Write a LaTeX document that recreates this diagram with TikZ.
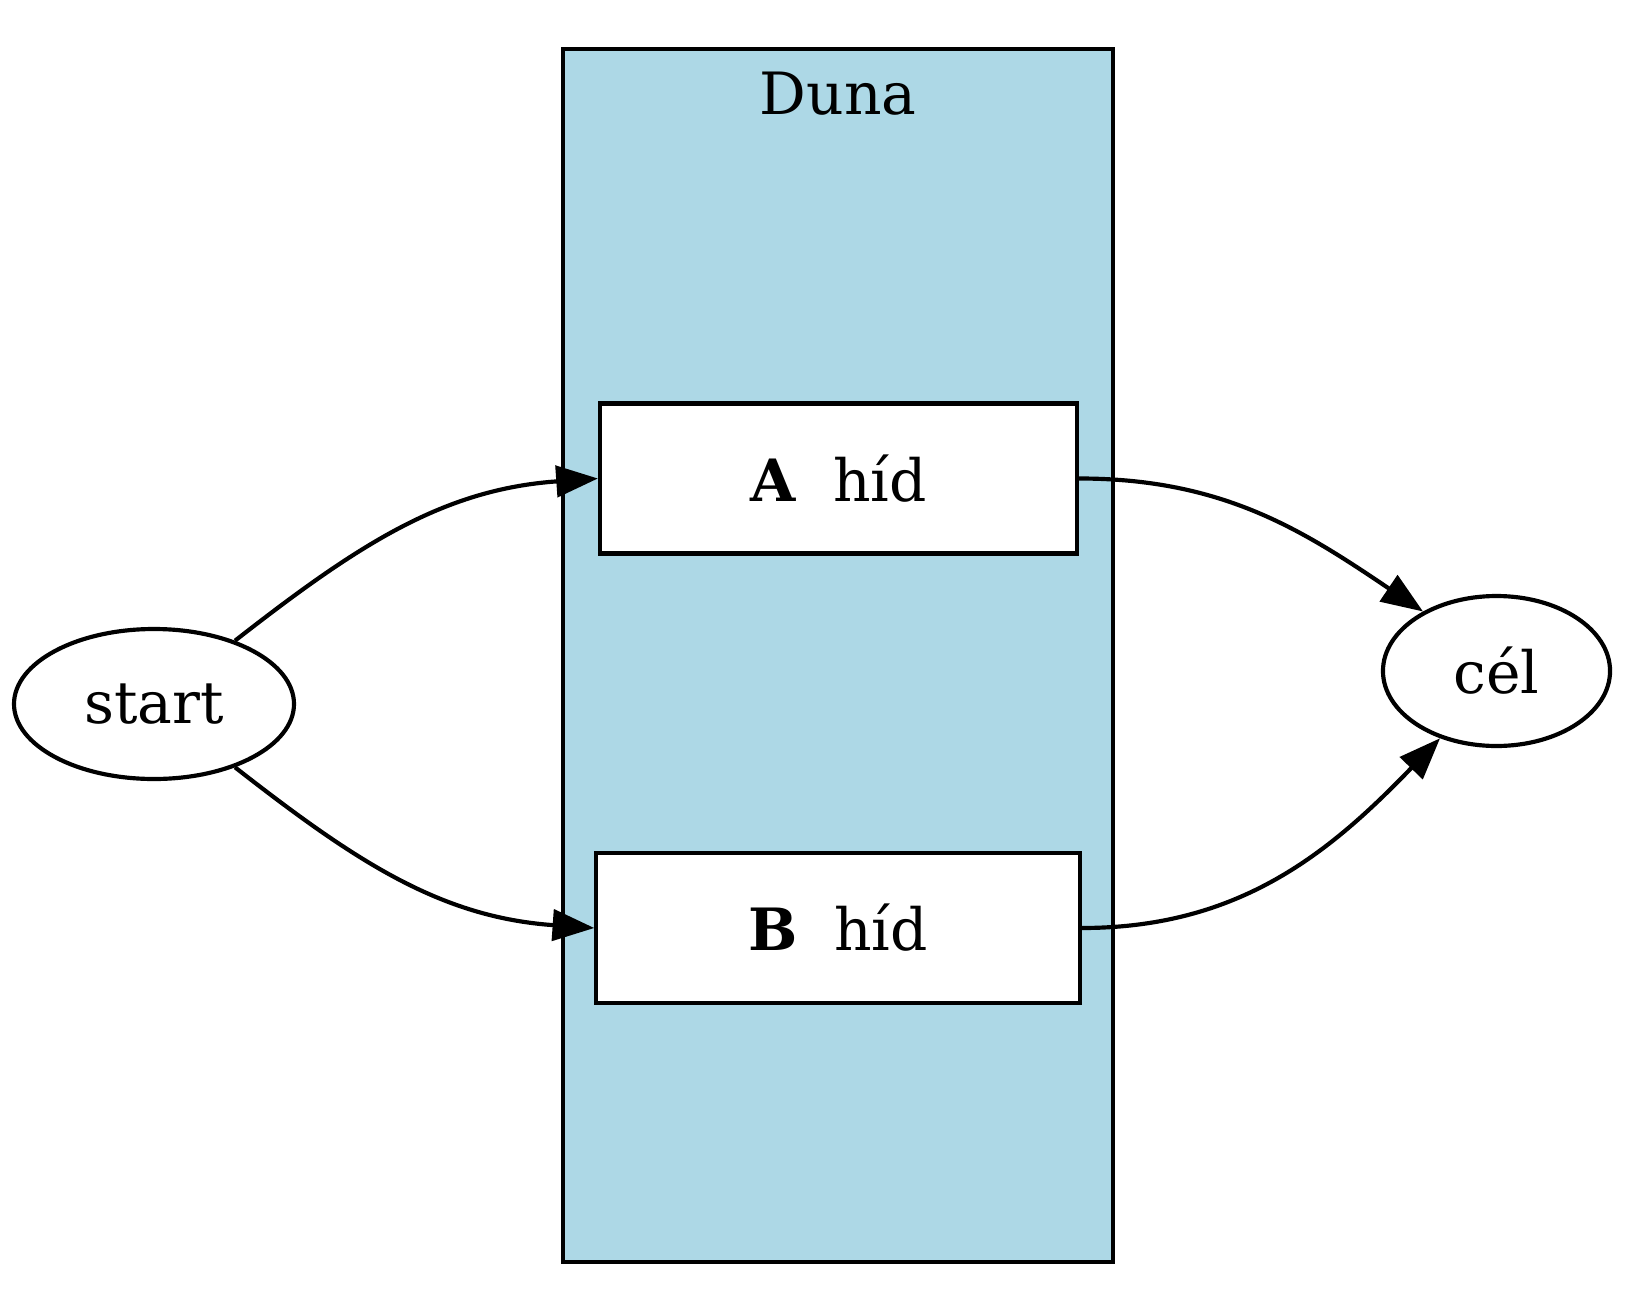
\documentclass[tikz,border=0pt]{standalone}
\usepackage{fontspec}
\setmainfont{DejaVu Serif}
\usetikzlibrary{arrows.meta,shapes.geometric}
\definecolor{lightblue}{HTML}{ADD8E6}
\begin{document}
\begin{tikzpicture}[x=0.24pt,y=-0.24pt,
  every node/.style={font=\fontsize{14pt}{16pt}\selectfont, inner sep=0pt, line width=1pt},
  cluster/.style={draw, fill=lightblue, line width=1pt, minimum width=132pt, minimum height=291pt},
  bridge/.style={draw, fill=white, rectangle, minimum height=36pt},
  term/.style={draw, fill=white, ellipse, minimum height=36pt},
  conn/.style={line width=1pt, -{Triangle[length=10pt,width=7.5pt]}}]
\useasboundingbox (0,0) rectangle (1626,1312);
\node[cluster] (duna) at (838,655.5) {};
\node (dunalbl) at (838,94) {Duna};
\node[bridge, minimum width=114.5pt] (A) at (838.5,478.5) {\textbf{A}~~híd};
\node[bridge, minimum width=116pt] (B) at (838,928) {\textbf{B}~~híd};
\node[term, minimum width=67.2pt] (start) at (154,704) {start};
\node[term, minimum width=54.5pt] (cel) at (1496.5,671) {cél};
\draw[conn] (start) to[out=38,in=184] (A.west);
\draw[conn] (start) to[out=-38,in=176] (B.west);
\draw[conn] (A.east) to[out=0,in=146] (cel.141);
\draw[conn] (B.east) to[out=0,in=226] (cel.230);
\end{tikzpicture}
\end{document}
